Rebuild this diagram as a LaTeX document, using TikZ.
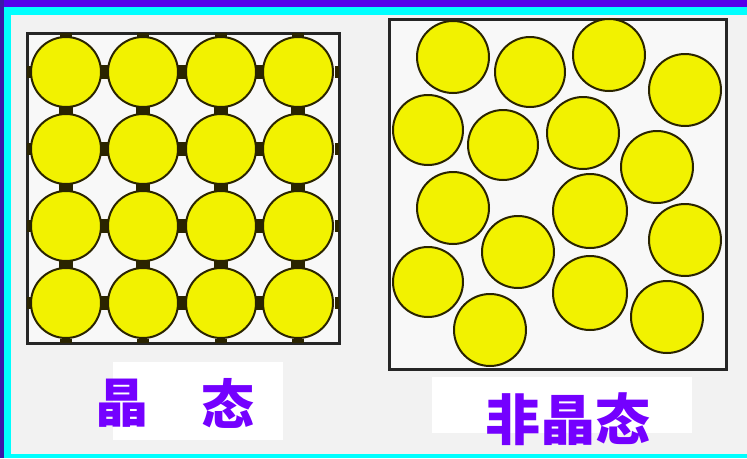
\documentclass[tikz,border=0pt]{standalone}
\usepackage{fontspec}
\newfontfamily\cjk{Noto Sans CJK SC}
\definecolor{topbar}{HTML}{5500EA}
\definecolor{sidebar}{HTML}{3A18A8}
\definecolor{cyanb}{HTML}{00FFFF}
\definecolor{bg}{HTML}{F2F2F2}
\definecolor{inner}{HTML}{F8F8F8}
\definecolor{ball}{HTML}{F2F200}
\definecolor{balledge}{HTML}{2A2400}
\definecolor{labelc}{HTML}{7400FF}
\tikzset{
  atom/.style={fill=ball,draw=balledge,line width=2pt},
  link/.style={fill=balledge},
  boxframe/.style={draw=black!85,line width=3pt,fill=inner},
  labeltext/.style={text=labelc,inner sep=0pt,font=\cjk\bfseries\fontsize{#1}{#1}\selectfont},
}
\begin{document}
\begin{tikzpicture}[x=1pt,y=-1pt]
\useasboundingbox (0,0) rectangle (747,458);
% background and frame
\fill[bg] (0,0) rectangle (747,458);
\fill[topbar] (0,0) rectangle (747,7);
\fill[cyanb] (4,7) rectangle (747,15);
\fill[cyanb] (4,7) rectangle (11,458);
\fill[cyanb] (4,454) rectangle (747,458);
\fill[sidebar] (0,0) rectangle (4,458);
% boxes
\draw[boxframe] (27,33) rectangle (339,343);
\draw[boxframe] (389,19) rectangle (726,369);
% crystal links
\foreach \y in {72,149,226,303}{
  \foreach \x in {104,182,260}{
    \fill[link] (\x-4,\y-7) rectangle (\x+4,\y+7);
  }
  \fill[link] (27,\y-6) rectangle (31,\y+6);
  \fill[link] (335,\y-6) rectangle (339,\y+6);
}
\foreach \x in {66,143,221,298}{
  \foreach \y in {110,187,264}{
    \fill[link] (\x-7,\y-4) rectangle (\x+7,\y+4);
  }
  \fill[link] (\x-6,33) rectangle (\x+6,37);
  \fill[link] (\x-6,339) rectangle (\x+6,343);
}
% crystal atoms
\foreach \y in {72,149,226,303}{
  \foreach \x in {66,143,221,298}{
    \draw[atom] (\x,\y) circle (35);
  }
}
% amorphous atoms
\foreach \x/\y/\r in {453/57/36,530/72/35,609/55/36,685/90/36,
  428/130/35,503/145/35,583/133/36,657/167/36,
  453/208/36,590/211/37,685/240/36,518/252/36,
  428/282/35,590/293/37,667/317/36,490/330/36}{
  \draw[atom] (\x,\y) circle (\r);
}
% labels
\fill[white] (113,362) rectangle (283,440);
\fill[white] (432,377) rectangle (692,433);
\node[labeltext=53] (crys1) at (122,403) {晶};
\node[labeltext=53] (crys2) at (228,403) {态};
\node[labeltext=55] (amor) at (568,419) {非晶态};
\end{tikzpicture}
\end{document}
